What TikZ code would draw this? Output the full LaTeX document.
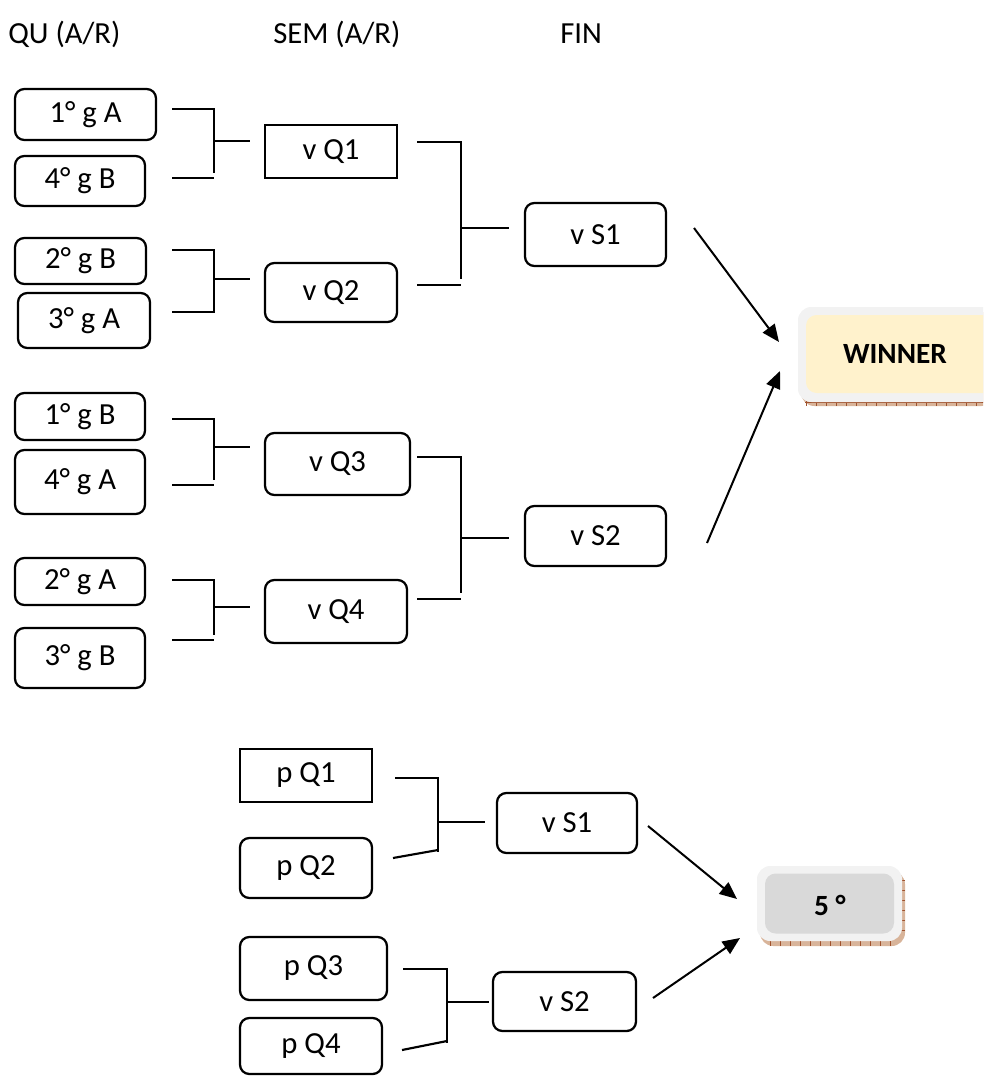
\documentclass[tikz,border=0pt]{standalone}
\usepackage{fontspec}
\setmainfont{Carlito}
\usetikzlibrary{arrows.meta}
\definecolor{cream}{HTML}{FFF2CC}
\definecolor{lgray}{HTML}{F2F2F2}
\definecolor{mgray}{HTML}{D9D9D9}
\definecolor{shadowbrown}{HTML}{D8B49A}
\definecolor{tickbrown}{HTML}{A0522D}
\newcommand{\fsnorm}{\fontsize{23}{27}\selectfont}
\newcommand{\fsbold}{\fontsize{22}{26}\selectfont\bfseries}
\newcommand{\bbox}[7]{\node[#1, minimum width={(#4-#2)*0.75pt}, minimum height={(#5-#3)*0.75pt}] (#6) at ({(#2+#4)/2},{(#3+#5)/2}) {#7};}
\tikzset{
  rbox/.style={draw, line width=1.7pt, rounded corners=7pt, inner sep=0pt, font=\fsnorm},
  sbox/.style={draw, line width=1.7pt, inner sep=0pt, font=\fsnorm},
  brk/.style={line width=1.6pt},
  brkthin/.style={line width=1.2pt},
  arr/.style={line width=1.5pt, -{Triangle[length=13pt,width=11pt]}},
  hdr/.style={anchor=west, inner sep=0pt, font=\fontsize{23}{27}\selectfont},
}
\begin{document}
\begin{tikzpicture}[x=0.75pt,y=-0.75pt]
\useasboundingbox (0,0) rectangle (983,1077);
\clip (0,0) rectangle (983,1077);

% headers
\node[hdr] (h1) at (8,34) {QU (A/R)};
\node[hdr] (h2) at (273,34) {SEM (A/R)};
\node[hdr] (h3) at (560,34) {FIN};

% quarter-final boxes
\bbox{rbox}{15}{89}{156}{140}{a1}{1° g A}
\bbox{rbox}{15}{156}{145}{206}{a2}{4° g B}
\bbox{rbox}{15}{238}{146}{284}{a3}{2° g B}
\bbox{rbox}{18}{293}{150}{348}{a4}{3° g A}
\bbox{rbox}{15}{393}{145}{440}{a5}{1° g B}
\bbox{rbox}{15}{450}{145}{514}{a6}{4° g A}
\bbox{rbox}{15}{558}{145}{605}{a7}{2° g A}
\bbox{rbox}{15}{628}{145}{688}{a8}{3° g B}

% semi boxes
\bbox{sbox}{265}{125}{397}{178}{q1}{v Q1}
\bbox{rbox}{265}{263}{397}{322}{q2}{v Q2}
\bbox{rbox}{265}{433}{410}{495}{q3}{v Q3}
\bbox{rbox}{265}{580}{407}{643}{q4}{v Q4}

% final boxes
\bbox{rbox}{525}{203}{666}{266}{s1}{v S1}
\bbox{rbox}{525}{506}{666}{566}{s2}{v S2}

% brackets quarter -> semi
\draw[brk] (172,109) -- (214,109) -- (214,173);
\draw[brk] (172,178) -- (214,178);
\draw[brk] (214,141) -- (250,141);

\draw[brk] (172,250) -- (214,250) -- (214,312) -- (172,312);
\draw[brk] (214,279) -- (250,279);

\draw[brk] (172,419) -- (214,419) -- (214,480);
\draw[brk] (172,485) -- (214,485);
\draw[brk] (214,447) -- (250,447);

\draw[brk] (172,580) -- (214,580) -- (214,635);
\draw[brk] (172,640) -- (214,640);
\draw[brk] (214,607) -- (250,607);

% brackets semi -> final
\draw[brk] (417,142) -- (461,142) -- (461,279);
\draw[brk] (417,285) -- (461,285);
\draw[brk] (461,228) -- (509,228);

\draw[brk] (417,457) -- (461,457) -- (461,593);
\draw[brk] (417,599) -- (461,599);
\draw[brk] (461,538) -- (509,538);

% WINNER box
\fill[shadowbrown, rounded corners=10pt] (801,312) rectangle (995,406);
\foreach \t in {806,816,...,990} \draw[tickbrown, line width=0.4pt] (\t,398) -- (\t,406);
\draw[tickbrown, line width=0.5pt] (805,402) -- (990,402);
\fill[lgray, rounded corners=10pt] (798,307) rectangle (995,402);
\node[fill=cream, rounded corners=8pt, minimum width={190*0.75pt}, minimum height={78*0.75pt}, inner sep=0pt] (winbg) at (901,354) {};
\node[font=\fsbold, inner sep=0pt] (winner) at (895,354) {WINNER};

% arrows to winner
\coordinate (w1) at (694,228);
\coordinate (w1e) at (779,342);
\coordinate (w2) at (707,543);
\coordinate (w2e) at (780,371);
\draw[arr] (w1) -- (w1e);
\draw[arr] (w2) -- (w2e);

% lower part
\bbox{sbox}{240}{749}{372}{802}{p1}{p Q1}
\bbox{rbox}{240}{838}{372}{898}{p2}{p Q2}
\bbox{rbox}{240}{937}{387}{1000}{p3}{p Q3}
\bbox{rbox}{240}{1018}{382}{1074}{p4}{p Q4}

\bbox{rbox}{497}{793}{637}{853}{t1}{v S1}
\bbox{rbox}{493}{972}{636}{1031}{t2}{v S2}

\draw[brkthin] (395,778) -- (438,778) -- (438,852);
\draw[brk] (393,858) -- (438,850);
\draw[brk] (438,822) -- (485,822);

\draw[brkthin] (403,969) -- (447,969) -- (447,1043);
\draw[brk] (402,1050) -- (447,1041);
\draw[brk] (447,1002) -- (489,1002);

% 5th place box
\fill[shadowbrown, rounded corners=10pt] (760,871) rectangle (905,946);
\foreach \t in {770,780,...,895} \draw[tickbrown, line width=0.4pt] (\t,938) -- (\t,946);
\foreach \t in {880,890,...,930} \draw[tickbrown, line width=0.4pt] (897,\t) -- (905,\t);
\fill[lgray, rounded corners=10pt] (757,866) rectangle (902,941);
\node[fill=mgray, rounded corners=8pt, minimum width={129*0.75pt}, minimum height={60*0.75pt}, inner sep=0pt] (fifthbg) at (829.5,903.5) {};
\node[font=\fsbold, inner sep=0pt] (fifth) at (830,905) {5 °};

\coordinate (f1) at (648,826);
\coordinate (f1e) at (737,899);
\coordinate (f2) at (653,998);
\coordinate (f2e) at (740,938);
\draw[arr] (f1) -- (f1e);
\draw[arr] (f2) -- (f2e);
\end{tikzpicture}
\end{document}
